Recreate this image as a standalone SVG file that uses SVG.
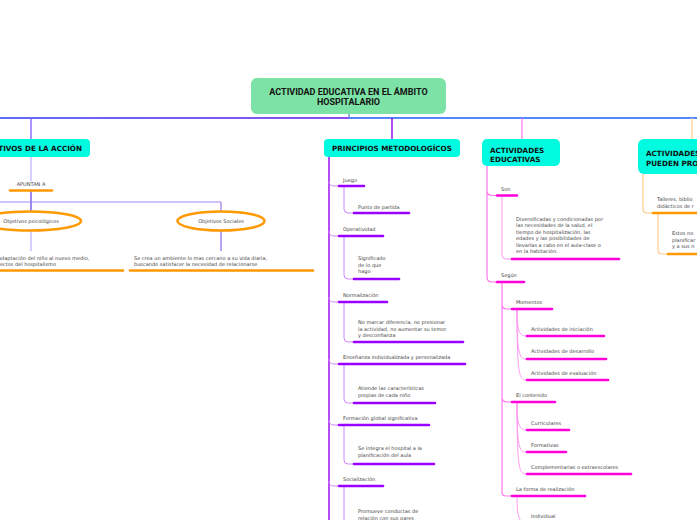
<svg xmlns="http://www.w3.org/2000/svg" width="697" height="520" viewBox="0 0 697 520">
<defs>
<linearGradient id="gl" x1="0" y1="0" x2="349" y2="0" gradientUnits="userSpaceOnUse">
<stop offset="0" stop-color="#2a3cf2"/><stop offset="1" stop-color="#6210ee"/>
</linearGradient>
</defs>
<style>
.root{fill:#7de2a6}
.rt{font-family:Roboto,"Liberation Sans",sans-serif;font-weight:bold;font-size:9px;fill:#111;text-anchor:middle}
.br{fill:#00fbe0}
.bt{font-family:"DejaVu Sans",Verdana,sans-serif;font-weight:bold;font-size:7.2px;fill:#111}
.t{font-family:"DejaVu Sans",Verdana,sans-serif;font-size:5px;fill:#444}
.tc{font-family:"DejaVu Sans",Verdana,sans-serif;font-size:5px;fill:#444;text-anchor:middle}
.ulo{stroke:#ff9900;stroke-width:2.6;stroke-linecap:round;fill:none}
.ulp{stroke:#9900ff;stroke-width:2.6;stroke-linecap:round;fill:none}
.ulm{stroke:#ff00dd;stroke-width:2.6;stroke-linecap:round;fill:none}
.ell{fill:#fff;stroke:#ff9900;stroke-width:2.5}
.cp{stroke:#9a00ee;stroke-width:1.4;fill:none}
.cpl{stroke:#cc88ff;stroke-width:1;fill:none}
.cm{stroke:#ff77ee;stroke-width:1.2;fill:none}
.cml{stroke:#ff99f2;stroke-width:1;fill:none}
.co{stroke:#ffcc88;stroke-width:1.2;fill:none}
.cv{stroke:#8866ff;stroke-width:1.4;fill:none}
.cvl{stroke:#c8b8ff;stroke-width:1.4;fill:none}
</style>
<rect width="697" height="520" fill="#fff"/>
<g id="connectors">
<line x1="0" y1="118" x2="349" y2="118" stroke="url(#gl)" stroke-width="1.3"/>
<line x1="349" y1="118" x2="697" y2="118" stroke="#1a5eff" stroke-width="1.3"/>
<line x1="349" y1="114" x2="349" y2="118" stroke="#6680cc" stroke-width="1.3"/>
<!-- objetivos -->
<line class="cv" x1="31" y1="118" x2="31" y2="139"/>
<line class="cvl" x1="31" y1="157" x2="31" y2="181"/>
<line stroke="#7755ee" stroke-width="1.4" x1="31" y1="191" x2="31" y2="211"/>
<line stroke="#9988ff" stroke-width="1.2" x1="0" y1="202" x2="221" y2="202"/>
<line stroke="#9977ee" stroke-width="1.2" x1="221" y1="202" x2="221" y2="211"/>
<line class="cvl" x1="31" y1="231" x2="31" y2="251"/>
<line stroke="#8866ee" stroke-width="1.2" x1="221" y1="230" x2="221" y2="251"/>
<!-- principios -->
<line class="cp" x1="392" y1="118" x2="392" y2="139"/>
<line class="cp" x1="329" y1="157" x2="329" y2="520"/>
<path class="cpl" d="M329,181 Q329,186 334,186 L338,186 M329,231 Q329,236 334,236 L338,236 M329,297 Q329,302 334,302 L338,302 M329,359 Q329,364 334,364 L338,364 M329,420 Q329,425 334,425 L338,425 M329,481 Q329,486 334,486 L338,486"/>
<path class="cpl" d="M344,186 L344,209 Q344,213 348,213 L353,213 M344,236 L344,275 Q344,279 348,279 L353,279 M344,302 L344,338 Q344,342 348,342 L353,342 M344,364 L344,399 Q344,403 348,403 L353,403 M344,425 L344,460 Q344,464 348,464 L353,464 M344,486 L344,520"/>
<!-- actividades educativas -->
<line class="cm" x1="522" y1="118" x2="522" y2="139"/>
<path class="cm" d="M487,166 L487,277 Q487,282 492,282 L496,282 M487,190.5 Q487,195.5 492,195.5 L496,195.5"/>
<path class="cml" d="M502,195.5 L502,255 Q502,259 506,259 L511,259"/>
<path class="cm" d="M502,282 L502,492 Q502,496 506,496 L511,496 M502,304 Q502,309 507,309 L511,309 M502,397 Q502,402 507,402 L511,402"/>
<path class="cml" d="M517,309 C517,330 519,336 526,336 M517,309 C517,352 519,359 526,359 M517,309 C517,373 519,380 526,380"/>
<path class="cml" d="M517,402 C517,424 519,430 526,430 M517,402 C517,446 519,452 526,452 M517,402 C517,468 519,474 526,474"/>
<path class="cml" d="M517,496 C517,516 519,523 526,523"/>
<!-- actividades que pueden -->
<line class="co" x1="692" y1="118" x2="692" y2="139"/>
<path class="co" d="M643,174 L643,209 Q643,213 647,213 L652,213"/>
<path class="co" d="M658,213 L658,250 Q658,254 662,254 L667,254"/>
</g>
<g id="root">
<rect class="root" x="251" y="78" width="195" height="36" rx="6"/>
<text class="rt" x="348.5" y="94.5">ACTIVIDAD EDUCATIVA EN EL ÁMBITO</text>
<text class="rt" x="348.5" y="105">HOSPITALARIO</text>
</g>
<g id="objetivos">
<rect class="br" x="-30" y="139" width="120" height="18" rx="4"/>
<text class="bt" x="82" y="151" text-anchor="end">OBJETIVOS DE LA ACCIÓN</text>
</g>
<g id="apuntan">
<text class="tc" x="31" y="186">APUNTAN A</text>
<line class="ulo" x1="10" y1="190.5" x2="52" y2="190.5"/>
</g>
<g id="obj-psico">
<ellipse class="ell" cx="30" cy="221" rx="51" ry="9.5"/>
<text class="tc" x="31" y="223">Objetivos psicológicos</text>
</g>
<g id="obj-soc">
<ellipse class="ell" cx="221" cy="221" rx="43.5" ry="9.5"/>
<text class="tc" x="221" y="223">Objetivos Sociales</text>
</g>
<g id="psico-txt">
<text class="t" x="-2" y="260">adaptación del niño al nuevo medio,</text>
<text class="t" x="0" y="266">ectos del hospitalismo</text>
<line class="ulo" x1="-2" y1="270.5" x2="123" y2="270.5"/>
</g>
<g id="soc-txt">
<text class="t" x="134" y="260">Se crea un ambiente lo mas cercano a su vida diaria,</text>
<text class="t" x="134" y="266">buscando satisfacer la necesidad de relacionarse</text>
<line class="ulo" x1="130" y1="270.5" x2="313" y2="270.5"/>
</g>
<g id="principios">
<rect class="br" x="324" y="139" width="136" height="18" rx="4"/>
<text class="bt" x="332" y="151">PRINCIPIOS METODOLOGÍCOS</text>
</g>
<g id="juego"><text class="t" x="343" y="182">Juego</text><line class="ulp" x1="339" y1="186" x2="364" y2="186"/></g>
<g id="punto"><text class="t" x="358" y="209">Punto de partida</text><line class="ulp" x1="354" y1="213" x2="409" y2="213"/></g>
<g id="operatividad"><text class="t" x="343" y="231">Operatividad</text><line class="ulp" x1="339" y1="236" x2="383" y2="236"/></g>
<g id="significado"><text class="t" x="358" y="260">Significado</text><text class="t" x="358" y="266.5">de lo que</text><text class="t" x="358" y="273">hago</text><line class="ulp" x1="354" y1="279" x2="399" y2="279"/></g>
<g id="normalizacion"><text class="t" x="343" y="297">Normalización</text><line class="ulp" x1="339" y1="302" x2="387" y2="302"/></g>
<g id="nomarcar"><text class="t" x="358" y="324">No marcar diferencia, no presionar</text><text class="t" x="358" y="330.5">la actividad, no aumentar su temor</text><text class="t" x="358" y="337">y desconfianza</text><line class="ulp" x1="354" y1="342" x2="463" y2="342"/></g>
<g id="ensenanza"><text class="t" x="343" y="359">Enseñanza individualizada y personalizada</text><line class="ulp" x1="339" y1="364" x2="465" y2="364"/></g>
<g id="atiende"><text class="t" x="358" y="390">Atiende las características</text><text class="t" x="358" y="396.5">propias de cada niño</text><line class="ulp" x1="354" y1="403" x2="435" y2="403"/></g>
<g id="formacion"><text class="t" x="343" y="420">Formación global significativa</text><line class="ulp" x1="339" y1="425" x2="429" y2="425"/></g>
<g id="integra"><text class="t" x="358" y="450">Se integra el hospital a la</text><text class="t" x="358" y="457">planificación del aula</text><line class="ulp" x1="354" y1="464" x2="434" y2="464"/></g>
<g id="socializacion"><text class="t" x="343" y="481">Socialización</text><line class="ulp" x1="339" y1="486" x2="383" y2="486"/></g>
<g id="promueve"><text class="t" x="358" y="513">Promueve conductas de</text><text class="t" x="358" y="519.5">relación con sus pares</text></g>
<g id="actividades">
<rect class="br" x="482" y="139" width="78" height="27" rx="5"/>
<text class="bt" x="490" y="152.5">ACTIVIDADES</text>
<text class="bt" x="490" y="161.5">EDUCATIVAS</text>
</g>
<g id="son"><text class="t" x="501" y="191">Son</text><line class="ulm" x1="497" y1="195.5" x2="517" y2="195.5"/></g>
<g id="diversificadas">
<text class="t" x="516" y="220.5">Diversificadas y condicionadas por</text>
<text class="t" x="516" y="227">las necesidades de la salud, el</text>
<text class="t" x="516" y="233.5">tiempo de hospitalización, las</text>
<text class="t" x="516" y="240">edades y las posibilidades de</text>
<text class="t" x="516" y="246.5">llevarlas a cabo en el aula-clase o</text>
<text class="t" x="516" y="253">en la habitación.</text>
<line class="ulm" x1="512" y1="259" x2="619" y2="259"/>
</g>
<g id="segun"><text class="t" x="501" y="277">Según</text><line class="ulm" x1="497" y1="282" x2="524" y2="282"/></g>
<g id="momentos"><text class="t" x="516" y="304">Momentos</text><line class="ulm" x1="512" y1="309" x2="552" y2="309"/></g>
<g id="iniciacion"><text class="t" x="531" y="331">Actividades de iniciación</text><line class="ulm" x1="527" y1="336" x2="604" y2="336"/></g>
<g id="desarrollo"><text class="t" x="531" y="353">Actividades de desarrollo</text><line class="ulm" x1="527" y1="359" x2="606" y2="359"/></g>
<g id="evaluacion"><text class="t" x="531" y="375">Actividades de evaluación</text><line class="ulm" x1="527" y1="380" x2="608" y2="380"/></g>
<g id="contenido"><text class="t" x="516" y="397">El contenido</text><line class="ulm" x1="512" y1="402" x2="555" y2="402"/></g>
<g id="curriculares"><text class="t" x="531" y="425">Curriculares</text><line class="ulm" x1="527" y1="430" x2="569" y2="430"/></g>
<g id="formativas"><text class="t" x="531" y="447">Formativas</text><line class="ulm" x1="527" y1="452" x2="566" y2="452"/></g>
<g id="complementarias"><text class="t" x="531" y="469">Complementarias o extraescolares</text><line class="ulm" x1="527" y1="474" x2="631" y2="474"/></g>
<g id="forma"><text class="t" x="516" y="491">La forma de realización</text><line class="ulm" x1="512" y1="496" x2="585" y2="496"/></g>
<g id="individual"><text class="t" x="531" y="518">Individual</text></g>
<g id="actividades-pueden">
<rect class="br" x="638" y="139" width="90" height="35" rx="6"/>
<text class="bt" x="646" y="156">ACTIVIDADES</text>
<text class="bt" x="646" y="165.7">PUEDEN PRO</text>
</g>
<g id="talleres">
<text class="t" x="657" y="201">Talleres, biblio</text>
<text class="t" x="657" y="207.5">didácticos de r</text>
<line class="ulo" x1="653" y1="213" x2="700" y2="213"/>
</g>
<g id="estos">
<text class="t" x="672" y="235">Estos no</text>
<text class="t" x="672" y="241.5">planificar</text>
<text class="t" x="672" y="248">y a sus n</text>
<line class="ulo" x1="668" y1="254" x2="700" y2="254"/>
</g>
</svg>
